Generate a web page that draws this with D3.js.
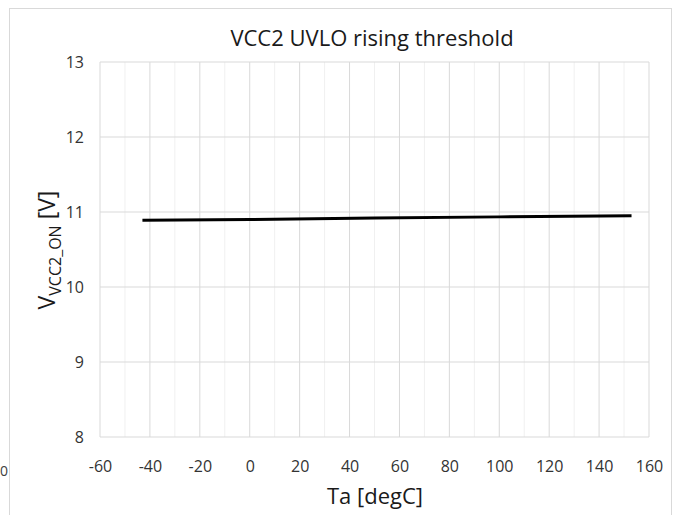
<!DOCTYPE html>
<html><head><meta charset="utf-8">
<script src="https://cdn.jsdelivr.net/npm/d3@7"></script>
<style>body{margin:0;background:#fff;}svg{display:block;font-family:"Open Sans",sans-serif;}</style>
</head><body><svg id="c" width="680" height="515"></svg>
<script>
const temps = [-43, 0, 50, 100, 153];
const vOn = [10.89, 10.90, 10.92, 10.935, 10.95];
const xTicks = [-60,-40,-20,0,20,40,60,80,100,120,140,160];
const xMinor = [-50,-30,-10,10,30,50,70,90,110,130,150];
const yTicks = [8,9,10,11,12,13];

const FF = '"Open Sans",sans-serif';
const svg = d3.select("#c");
const L=100, R=649, T=62, B=437;
const x = d3.scaleLinear().domain([-60,160]).range([L,R]);
const y = d3.scaleLinear().domain([8,13]).range([B,T]);

svg.append("rect").attr("x",9.5).attr("y",8.5).attr("width",662).attr("height",520).attr("fill","none").attr("stroke","#d9d9d9");
svg.append("text").attr("x",0).attr("y",y(8)+39).attr("font-size",14).attr("fill","#404040").text("0");

svg.append("g").selectAll("line").data(xMinor).join("line")
 .attr("x1",d=>x(d)).attr("x2",d=>x(d)).attr("y1",T).attr("y2",B).attr("stroke","#f0f0f0");
svg.append("g").selectAll("line").data(xTicks).join("line")
 .attr("x1",d=>x(d)).attr("x2",d=>x(d)).attr("y1",T).attr("y2",B).attr("stroke","#d9d9d9");
svg.append("g").selectAll("line").data(yTicks).join("line")
 .attr("x1",L).attr("x2",R).attr("y1",d=>y(d)).attr("y2",d=>y(d)).attr("stroke","#d9d9d9");

const xa = svg.append("g").attr("transform",`translate(0,${B})`).call(d3.axisBottom(x).tickValues(xTicks).tickFormat(d=>String(d)).tickSize(0).tickPadding(24));
xa.select(".domain").remove();
xa.selectAll("text").attr("font-size",16).attr("fill","#333").attr("font-family",FF);
const ya = svg.append("g").attr("transform",`translate(${L},0)`).call(d3.axisLeft(y).tickValues(yTicks).tickFormat(d=>String(d)).tickSize(0).tickPadding(16));
ya.select(".domain").remove();
ya.selectAll("text").attr("font-size",16).attr("fill","#333").attr("font-family",FF);

const pts = temps.map((t,i)=>[t,vOn[i]]);
svg.append("path").datum(pts).attr("fill","none").attr("stroke","#000").attr("stroke-width",3)
 .attr("d",d3.line().x(d=>x(d[0])).y(d=>y(d[1])));

svg.append("text").attr("x",372).attr("y",46).attr("text-anchor","middle").attr("font-size",22).attr("fill","#1a1a1a").text("VCC2 UVLO rising threshold");
svg.append("text").attr("x",375).attr("y",504).attr("text-anchor","middle").attr("font-size",22).attr("fill","#1a1a1a").text("Ta [degC]");
const yl = svg.append("text").attr("transform","translate(55,250) rotate(-90)").attr("text-anchor","middle").attr("font-size",23).attr("fill","#1a1a1a");
yl.append("tspan").text("V");
yl.append("tspan").attr("font-size",16).attr("dy",6).text("VCC2_ON");
yl.append("tspan").attr("dy",-6).text(" [V]");
</script></body></html>
